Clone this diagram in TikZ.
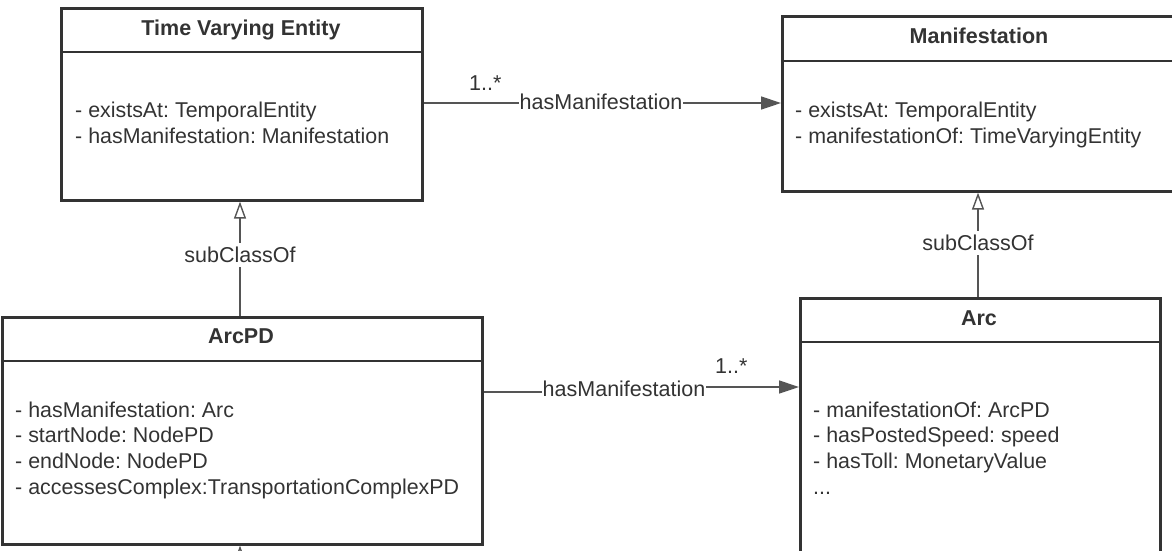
\documentclass[tikz,border=0pt]{standalone}
\usepackage{fontspec}
\setmainfont{Liberation Sans}
\frenchspacing
\usetikzlibrary{arrows.meta}
\definecolor{boxc}{HTML}{333333}
\definecolor{linec}{HTML}{555555}
\definecolor{txtc}{HTML}{333333}
\tikzset{
  umlbox/.style={draw=boxc, line width=2.6pt, anchor=north west, inner sep=0pt, rectangle},
  divider/.style={draw=boxc, line width=2.6pt},
  title/.style={font=\fontsize{21.5}{25}\selectfont\bfseries, text=txtc, anchor=base, inner sep=0pt},
  body/.style={font=\fontsize{21.4}{25.6}\selectfont\frenchspacing, text=txtc, anchor=base west, align=left, inner sep=0pt},
  conn/.style={draw=linec, line width=1.4pt},
  lbl/.style={font=\fontsize{21.5}{25}\selectfont, text=txtc, fill=white, inner xsep=0.5pt, inner ysep=2pt},
  mult/.style={font=\fontsize{21.5}{25}\selectfont, text=txtc, anchor=base west, inner sep=0pt},
  assoc/.style={-{Triangle[length=20pt,width=13pt]}, conn},
  subcls/.style={-{Triangle[open,length=17pt,width=12pt,fill=white]}, conn},
}
\begin{document}
\begin{tikzpicture}[x=1pt,y=-1pt]
\useasboundingbox (0,0) rectangle (1172,550);
\clip (0,0) rectangle (1172,550);
% boxes
\node[umlbox, minimum width=361pt, minimum height=192pt] (tve) at (60,7) {};
\node[umlbox, minimum width=396pt, minimum height=175pt] (man) at (781,15) {};
\node[umlbox, minimum width=480pt, minimum height=227pt] (arcpd) at (1,316) {};
\node[umlbox, minimum width=360pt, minimum height=300pt] (arc) at (799,297) {};
% dividers
\draw[divider] (tve.west |- 0,52) -- (tve.east |- 0,52);
\draw[divider] (man.west |- 0,61) -- (man.east |- 0,61);
\draw[divider] (arcpd.west |- 0,361) -- (arcpd.east |- 0,361);
\draw[divider] (arc.west |- 0,342) -- (arc.east |- 0,342);
% titles
\node[title] (tvet) at (241,35) {Time Varying Entity};
\node[title] (mant) at (979,43) {Manifestation};
\node[title] (arcpdt) at (241,343) {ArcPD};
\node[title] (arct) at (979,325) {Arc};
% bodies (anchor = baseline of last line)
\node[body] (tveb) at (75,143) {- existsAt: TemporalEntity\\- hasManifestation: Manifestation};
\node[body] (manb) at (795,143) {- existsAt: TemporalEntity\\- manifestationOf: TimeVaryingEntity};
\node[body] (arcpdb) at (15,494) {- hasManifestation: Arc\\- startNode: NodePD\\- endNode: NodePD\\- accessesComplex:TransportationComplexPD};
\node[body] (arcb) at (813,494) {- manifestationOf: ArcPD\\- hasPostedSpeed: speed\\- hasToll: MonetaryValue\\...};
% associations
\draw[assoc] (tve.east |- 0,103) -- (man.west |- 0,103);
\node[lbl] (l1) at (601,102) {hasManifestation};
\node[mult] (m1) at (469,90) {1..*};
\coordinate (j1) at (624,392);
\coordinate (j2) at (624,387);
\draw[conn] (arcpd.east |- j1) -- (j1) -- (j2);
\draw[assoc] (j2) -- (arc.west |- j2);
\node[lbl] (l2) at (624,389) {hasManifestation};
\node[mult] (m2) at (715,373) {1..*};
% subclass
\draw[subcls] (arcpd.north -| 240,0) -- (tve.south -| 240,0);
\node[lbl, inner ysep=4pt] (s1) at (240,255) {subClassOf};
\draw[subcls] (arc.north -| 978,0) -- (man.south -| 978,0);
\node[lbl, inner ysep=4pt] (s2) at (978,243) {subClassOf};
\coordinate (below) at (240,620);
\draw[subcls] (below) -- (arcpd.south -| 240,0);
\end{tikzpicture}
\end{document}
